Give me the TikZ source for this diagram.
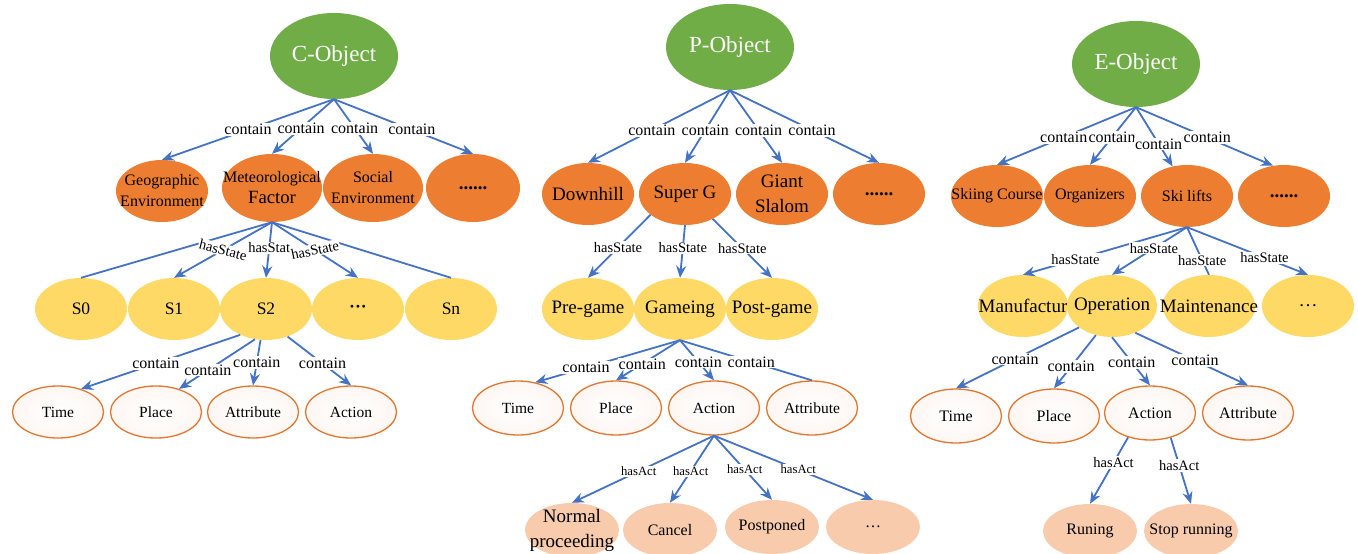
\documentclass[tikz,border=0pt]{standalone}
\usepackage{fontspec}
\setmainfont{Liberation Serif}
\usetikzlibrary{shapes.geometric,arrows.meta}
\definecolor{objgreen}{HTML}{70AD47}
\definecolor{partorange}{HTML}{ED7D31}
\definecolor{stateyellow}{HTML}{FFD966}
\definecolor{actpeach}{HTML}{F8CBAD}
\definecolor{ringorange}{HTML}{E2762E}
\definecolor{linkblue}{HTML}{4472C4}

\begin{document}
\begin{tikzpicture}[x=1pt,y=-1pt,every node/.style={align=center,inner sep=0pt},
	f13/.style={font=\fontsize{12.7}{15}\selectfont},
	f14/.style={font=\fontsize{14.5}{17}\selectfont},
	f15/.style={font=\fontsize{15.5}{18}\selectfont},
	f16/.style={font=\fontsize{16}{21}\selectfont},
	f17/.style={font=\fontsize{17.5}{21}\selectfont},
	f19/.style={font=\fontsize{19}{25}\selectfont},
	f23/.style={text=white,font=\fontsize{23}{26}\selectfont},
	obj/.style={ellipse,fill=objgreen,minimum width=128pt,minimum height=86pt},
	part/.style={ellipse,fill=partorange,minimum width=92pt,minimum height=62pt},
	state/.style={ellipse,fill=stateyellow,minimum width=92pt,minimum height=62pt},
	elem/.style={ellipse,draw=ringorange,line width=1.3pt,inner color=white,outer color=ringorange!6,minimum width=91pt,minimum height=52pt},
	act/.style={ellipse,fill=actpeach,minimum width=94pt,minimum height=54pt},
	rel/.style={draw=linkblue,line width=1.8pt,-{Stealth[length=12pt,width=10pt]}},
	tag/.style={fill=white,inner sep=1pt}]
			\useasboundingbox (0,0) rectangle (1358,554);
			\clip (0,0) rectangle (1358,554);
			\node[obj,label={[f23]center:C-Object}] (cobj) at (334,56) {};
			\node[part,label={[f16]center:Geographic\\Environment}] (geo) at (162,191) {};
			\node[part,minimum width=100pt,minimum height=68pt,label={[f16]center:Meteorological\\\fontsize{18.7}{22}\selectfont Factor}] (met) at (272,188) {};
			\node[part,minimum width=100pt,minimum height=68pt,label={[f16]center:Social\\Environment}] (soc) at (373,188) {};
			\node[part,minimum width=94pt,minimum height=68pt,label={[f19]center:\textbf{......}}] (cdots) at (473,188) {};
			\node[state,label={[f17]center:S0}] (s0) at (81,309) {};
			\node[state,label={[f17]center:S1}] (s1) at (174,309) {};
			\node[state,label={[f17]center:S2}] (s2) at (266,309) {};
			\node[state,label={[f17]center:\textbf{···}}] (sdots) at (358,309) {};
			\node[state,label={[f17]center:Sn}] (sn) at (451,309) {};
			\node[elem,label={[f15]center:Time}] (ctime) at (58,412) {};
			\node[elem,label={[f15]center:Place}] (cplace) at (156,412) {};
			\node[elem,label={[f15]center:Attribute}] (cattr) at (253,412) {};
			\node[elem,label={[f15]center:Action}] (cact) at (351,412) {};
			\draw[rel] (cobj.south) -- node[tag,f16,pos=0.5] {contain} (geo.north);
			\draw[rel] (cobj.south) -- node[tag,f16,pos=0.53] {contain} (met.north);
			\draw[rel] (cobj.south) -- node[tag,f16,pos=0.53] {contain} (soc.north);
			\draw[rel] (cobj.south) -- node[tag,f16,pos=0.56] {contain} (cdots.north);
			\draw[rel,-] (met.south) -- (s0.north);
			\draw[rel,-] (met.south) -- (sn.north);
			\draw[rel] (met.south) -- node[tag,f14,pos=0.5,rotate=-14] {hasState} (s1.north);
			\draw[rel] (met.south) -- node[tag,f14,pos=0.46] {hasStat} (s2.north);
			\draw[rel] (met.south) -- node[tag,f14,pos=0.5,rotate=12] {hasState} (sdots.north);
			\draw[rel] (s2.225) -- node[tag,f16,pos=0.53] {contain} (ctime.45);
			\draw[rel] (s2.250) -- node[tag,f16,pos=0.62] {contain} (cplace.45);
			\draw[rel] (s2.260) -- node[tag,f16,pos=0.5] {contain} (cattr.north);
			\draw[rel] (s2.308) -- node[tag,f16,pos=0.55] {contain} (cact.north);
			\node[obj,label={[f23]center:P-Object}] (pobj) at (730,47) {};
			\node[part,label={[f19]center:Downhill}] (down) at (588,194) {};
			\node[part,label={[f19]center:Super G}] (superg) at (685,194) {};
			\node[part,label={[f19]center:Giant\\Slalom}] (giant) at (782,194) {};
			\node[part,label={[f19]center:\textbf{......}}] (pdots) at (879,194) {};
			\node[state,label={[f19]center:Pre-game}] (pre) at (588,309) {};
			\node[state,label={[f19]center:Gameing}] (game) at (680,309) {};
			\node[state,label={[f19]center:Post-game}] (post) at (772,309) {};
			\node[elem,minimum height=54pt,label={[f15]center:Time}] (ptime) at (518,408) {};
			\node[elem,minimum height=54pt,label={[f15]center:Place}] (pplace) at (616,408) {};
			\node[elem,minimum height=54pt,label={[f15]center:Action}] (pact) at (714,408) {};
			\node[elem,minimum height=54pt,label={[f15]center:Attribute}] (pattr) at (812,408) {};
			\node[act,label={[f19]center:Normal\\proceeding}] (normal) at (572,530) {};
			\node[act,label={[f16]center:Cancel}] (cancel) at (670,530) {};
			\node[act,label={[f16]center:Postponed}] (postp) at (772,527) {};
			\node[act,label={[f16]center:…}] (adots) at (873,527) {};
			\draw[rel] (pobj.south) -- node[tag,f16,pos=0.55] {contain} (down.north);
			\draw[rel] (pobj.south) -- node[tag,f16,pos=0.55] {contain} (superg.north);
			\draw[rel] (pobj.south) -- node[tag,f16,pos=0.55] {contain} (giant.north);
			\draw[rel] (pobj.south) -- node[tag,f16,pos=0.55] {contain} (pdots.north);
			\draw[rel] (superg.211) -- node[tag,f14,pos=0.52] {hasState} (pre.north);
			\draw[rel] (superg.south) -- node[tag,f14,pos=0.43] {hasState} (game.north);
			\draw[rel] (superg.318) -- node[tag,f14,pos=0.5] {hasState} (post.north);
			\draw[rel] (game.south) -- node[tag,f16,pos=0.65] {contain} (ptime.56);
			\draw[rel] (game.south) -- node[tag,f16,pos=0.59] {contain} (pplace.north);
			\draw[rel] (game.south) -- node[tag,f16,pos=0.54] {contain} (pact.north);
			\draw[rel,-] (game.south) -- node[tag,f16,pos=0.54] {contain} (pattr.north);
			\draw[rel] (pact.south) -- node[tag,f13,pos=0.53] {hasAct} (normal.north);
			\draw[rel] (pact.south) -- node[tag,f13,pos=0.53] {hasAct} (cancel.north);
			\draw[rel] (pact.south) -- node[tag,f13,pos=0.53] {hasAct} (postp.north);
			\draw[rel] (pact.south) -- node[tag,f13,pos=0.53] {hasAct} (adots.north);
			\node[obj,label={[f23]center:E-Object}] (eobj) at (1136,64) {};
			\node[part,label={[f16]center:Skiing Course}] (course) at (997,196) {};
			\node[part,label={[f16]center:Organizers}] (organ) at (1090,196) {};
			\node[part,label={[f16]center:Ski lifts}] (lifts) at (1187,196) {};
			\node[part,label={[f19]center:\textbf{......}}] (edots) at (1284,196) {};
			\node[state,minimum width=90pt,label={[f19]center:Manufactur}] (manu) at (1023,306) {};
			\node[state,minimum width=90pt,label={[f19]center:Operation}] (oper) at (1112,306) {};
			\node[state,label={[f19]center:Maintenance}] (maint) at (1209,306) {};
			\node[state,label={[f19]center:…}] (mdots) at (1308,306) {};
			\node[elem,minimum height=54pt,label={[f16]center:Time}] (etime) at (956,416) {};
			\node[elem,minimum height=54pt,label={[f16]center:Place}] (eplace) at (1054,416) {};
			\node[elem,minimum height=54pt,label={[f16]center:Action}] (eact) at (1150,413) {};
			\node[elem,minimum height=54pt,label={[f16]center:Attribute}] (eattr) at (1248,413) {};
			\node[act,label={[f16]center:Runing}] (runing) at (1090,531) {};
			\node[act,label={[f16]center:Stop running}] (stop) at (1191,531) {};
			\draw[rel] (eobj.south) -- node[tag,f16,pos=0.52] {contain} (course.north);
			\draw[rel] (eobj.south) -- node[tag,f16,pos=0.52] {contain} (organ.north);
			\draw[rel] (eobj.south) -- node[tag,f16,pos=0.62] {contain} (lifts.116);
			\draw[rel] (eobj.south) -- node[tag,f16,pos=0.52] {contain} (edots.110);
			\draw[rel] (lifts.south) -- node[tag,f14,pos=0.68] {hasState} (manu.north);
			\draw[rel] (lifts.south) -- node[tag,f14,pos=0.44] {hasState} (oper.north);
			\draw[rel,-] (lifts.south) -- node[tag,f14,pos=0.69] {hasState} (maint.north);
			\draw[rel] (lifts.south) -- node[tag,f14,pos=0.64] {hasState} (mdots.north);
			\draw[rel] (oper.213) -- node[tag,f16,pos=0.52] {contain} (etime.north);
			\draw[rel] (oper.241) -- node[tag,f16,pos=0.59] {contain} (eplace.north);
			\draw[rel] (oper.south) -- node[tag,f16,pos=0.52] {contain} (eact.north);
			\draw[rel] (oper.311) -- node[tag,f16,pos=0.53] {contain} (eattr.north);
			\draw[rel] (eact.228) -- node[tag,f14,pos=0.38] {hasAct} (runing.north);
			\draw[rel] (eact.310) -- node[tag,f14,pos=0.42] {hasAct} (stop.north);
\end{tikzpicture}
\end{document}
